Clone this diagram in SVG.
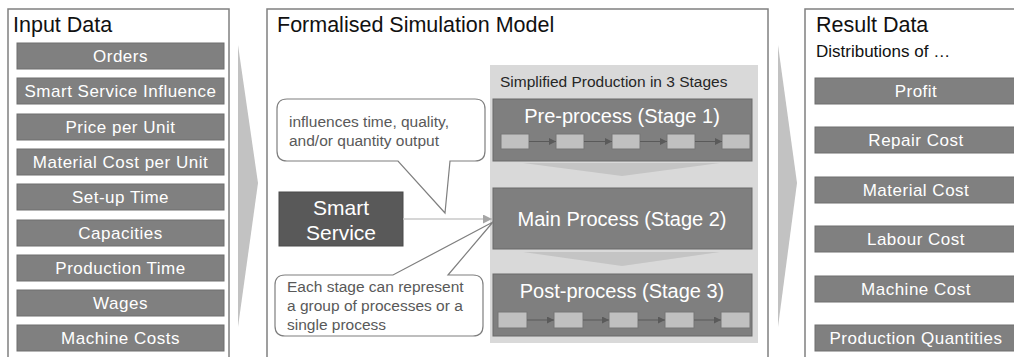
<svg xmlns="http://www.w3.org/2000/svg" width="1014" height="357" viewBox="0 0 1014 357">
<style>
text{font-family:"Liberation Sans",Arial,sans-serif}
.panel{fill:#fff;stroke:#808080;stroke-width:1.5}
.title{font-size:21.5px;fill:#111}
.ibox{fill:#808080;stroke:#6e6e6e;stroke-width:1}
.itxt{font-size:17px;fill:#fff;text-anchor:middle;letter-spacing:0.5px}
.stage{fill:#7f7f7f;stroke:#6a6a6a;stroke-width:1}
.stxt{font-size:20px;fill:#fff;text-anchor:middle}
.sb{fill:#c0c0c0;stroke:#777;stroke-width:1}
.sa{stroke:#5a5a5a;stroke-width:1;fill:none;marker-end:url(#sm)}
.wedge{fill:#c2c2c2}
.chev{fill:#c4c4c4}
.call{fill:#fff;stroke:#7f7f7f;stroke-width:1.2}
.ctxt{font-size:15.5px;fill:#595959}
</style>
<defs>
<marker id="sm" viewBox="0 0 10 10" refX="10" refY="5" markerWidth="7" markerHeight="7" markerUnits="userSpaceOnUse" orient="auto">
<path d="M0,0 L10,5 L0,10 Z" fill="#5a5a5a"/>
</marker>
<marker id="lm" viewBox="0 0 10 10" refX="10" refY="5" markerWidth="9" markerHeight="9" markerUnits="userSpaceOnUse" orient="auto">
<path d="M0,0 L10,5 L0,10 Z" fill="#a6a6a6"/>
</marker>
</defs>

<g id="input-panel">
<rect class="panel" x="8" y="9" width="221" height="360"/>
<text class="title" x="13" y="32">Input Data</text>
<g id="in-orders"><rect class="ibox" x="17" y="43" width="207" height="26"/><text class="itxt" x="120.5" y="62">Orders</text></g>
<g id="in-ssi"><rect class="ibox" x="17" y="78" width="207" height="26"/><text class="itxt" x="120.5" y="97">Smart Service Influence</text></g>
<g id="in-price"><rect class="ibox" x="17" y="114" width="207" height="26"/><text class="itxt" x="120.5" y="133">Price per Unit</text></g>
<g id="in-mat"><rect class="ibox" x="17" y="149" width="207" height="26"/><text class="itxt" x="120.5" y="168">Material Cost per Unit</text></g>
<g id="in-setup"><rect class="ibox" x="17" y="184" width="207" height="26"/><text class="itxt" x="120.5" y="203">Set-up Time</text></g>
<g id="in-cap"><rect class="ibox" x="17" y="220" width="207" height="26"/><text class="itxt" x="120.5" y="239">Capacities</text></g>
<g id="in-prod"><rect class="ibox" x="17" y="255" width="207" height="26"/><text class="itxt" x="120.5" y="274">Production Time</text></g>
<g id="in-wages"><rect class="ibox" x="17" y="290" width="207" height="26"/><text class="itxt" x="120.5" y="309">Wages</text></g>
<g id="in-mach"><rect class="ibox" x="17" y="325" width="207" height="26"/><text class="itxt" x="120.5" y="344">Machine Costs</text></g>
</g>

<g id="model-panel">
<rect class="panel" x="267" y="9" width="501" height="360"/>
<text class="title" x="277" y="32">Formalised Simulation Model</text>
<rect x="490" y="65" width="268" height="278" fill="#d9d9d9"/>
<text x="500" y="87" font-size="15.5" fill="#262626">Simplified Production in 3 Stages</text>
</g>

<g id="stage1">
<rect class="stage" x="493" y="99" width="259" height="62"/>
<text class="stxt" x="622" y="123">Pre-process (Stage 1)</text>
<rect class="sb" x="501" y="134" width="28" height="15"/>
<rect class="sb" x="556" y="134" width="28" height="15"/>
<rect class="sb" x="612" y="134" width="28" height="15"/>
<rect class="sb" x="667" y="134" width="28" height="15"/>
<rect class="sb" x="722" y="134" width="28" height="15"/>
</g>

<g id="stage2">
<rect class="stage" x="493" y="188" width="259" height="61"/>
<text class="stxt" x="622" y="226">Main Process (Stage 2)</text>
</g>

<g id="stage3">
<rect class="stage" x="493" y="274" width="259" height="62"/>
<text class="stxt" x="622" y="298">Post-process (Stage 3)</text>
<rect class="sb" x="498" y="312" width="29" height="16"/>
<rect class="sb" x="554" y="312" width="29" height="16"/>
<rect class="sb" x="609" y="312" width="29" height="16"/>
<rect class="sb" x="665" y="312" width="29" height="16"/>
<rect class="sb" x="721" y="312" width="29" height="16"/>
</g>

<g id="smart-service">
<rect x="279" y="192" width="124" height="54" fill="#595959" stroke="#4a4a4a" stroke-width="1"/>
<text x="341" y="215" font-size="21" fill="#fff" text-anchor="middle">Smart</text>
<text x="341" y="240" font-size="21" fill="#fff" text-anchor="middle">Service</text>
</g>

<g id="callout-influence">
<path class="call" d="M287,99 H475 Q485,99 485,109 V151 Q485,161 475,161 H450 L445,213 L398,161 H287 Q277,161 277,151 V109 Q277,99 287,99 Z"/>
<text class="ctxt" x="289" y="127">influences time, quality,</text>
<text class="ctxt" x="289" y="146">and/or quantity output</text>
</g>

<g id="callout-stage">
<path class="call" d="M285,275 H393 L493,222 L448,275 H473 Q483,275 483,285 V326 Q483,336 473,336 H285 Q275,336 275,326 V285 Q275,275 285,275 Z"/>
<text class="ctxt" x="287" y="292">Each stage can represent</text>
<text class="ctxt" x="287" y="311">a group of processes or a</text>
<text class="ctxt" x="287" y="330">single process</text>
</g>

<g id="result-panel">
<rect class="panel" x="805" y="9" width="220" height="360"/>
<text class="title" x="816" y="32">Result Data</text>
<text x="816" y="57" font-size="17" fill="#111">Distributions of …</text>
<g id="out-profit"><rect class="ibox" x="815" y="78" width="205" height="26"/><text class="itxt" x="916" y="97">Profit</text></g>
<g id="out-repair"><rect class="ibox" x="815" y="127" width="205" height="26"/><text class="itxt" x="916" y="146">Repair Cost</text></g>
<g id="out-mat"><rect class="ibox" x="815" y="177" width="205" height="26"/><text class="itxt" x="916" y="196">Material Cost</text></g>
<g id="out-lab"><rect class="ibox" x="815" y="226" width="205" height="26"/><text class="itxt" x="916" y="245">Labour Cost</text></g>
<g id="out-mach"><rect class="ibox" x="815" y="276" width="205" height="26"/><text class="itxt" x="916" y="295">Machine Cost</text></g>
<g id="out-pq"><rect class="ibox" x="815" y="325" width="205" height="26"/><text class="itxt" x="916" y="344">Production Quantities</text></g>
</g>

<g id="connectors">
<polygon class="wedge" points="238,45 258,183 238,327"/>
<polygon class="wedge" points="778,45 797,183 778,327"/>
<polygon class="chev" points="523,163 720,163 622,176"/>
<polygon class="chev" points="523,252 720,252 622,266"/>
<line x1="403" y1="219" x2="492" y2="219" stroke="#c8c8c8" stroke-width="1.5" marker-end="url(#lm)"/>
<line class="sa" x1="529" y1="141.5" x2="556" y2="141.5"/>
<line class="sa" x1="584" y1="141.5" x2="612" y2="141.5"/>
<line class="sa" x1="640" y1="141.5" x2="667" y2="141.5"/>
<line class="sa" x1="695" y1="141.5" x2="722" y2="141.5"/>
<line class="sa" x1="527" y1="320" x2="554" y2="320"/>
<line class="sa" x1="583" y1="320" x2="609" y2="320"/>
<line class="sa" x1="638" y1="320" x2="665" y2="320"/>
<line class="sa" x1="694" y1="320" x2="721" y2="320"/>
</g>
</svg>
